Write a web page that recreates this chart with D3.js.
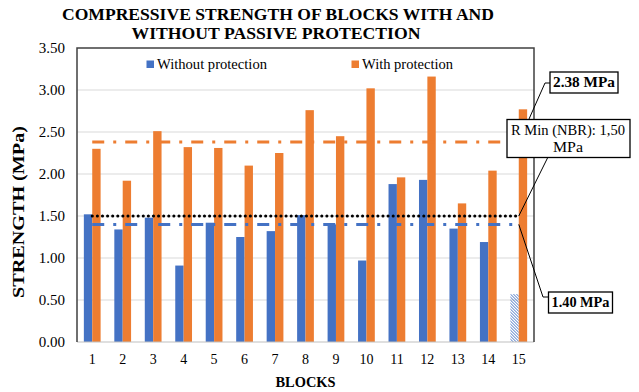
<!DOCTYPE html>
<html>
<head>
<meta charset="utf-8">
<script src="https://cdn.jsdelivr.net/npm/d3@7"></script>
<style>
    body { margin: 0; background: #fff; }
    svg { display: block; }
</style>
</head>
<body>
<div id="chart"></div>
<script>

// data
const blocks = ["1", "2", "3", "4", "5", "6", "7", "8", "9", "10", "11", "12", "13", "14", "15"];
const withoutProtection = [1.52, 1.34, 1.48, 0.91, 1.42, 1.25, 1.32, 1.51, 1.40, 0.97, 1.88, 1.93, 1.35, 1.19, 0.57];
const withProtection = [2.30, 1.92, 2.51, 2.32, 2.31, 2.10, 2.25, 2.76, 2.45, 3.02, 1.96, 3.16, 1.65, 2.04, 2.77];
const seriesNames = ["Without protection", "With protection"];
const yTicks = [0, 0.5, 1, 1.5, 2, 2.5, 3, 3.5];
const hatchedBlocks = ["15"];

// reference lines (averages and NBR minimum)
const avgWith = 2.38;
const avgWithout = 1.40;
const rMinNBR = 1.50;
const calloutTexts = ["2.38 MPa", "R Min (NBR): 1,50", "MPa", "1.40 MPa"];

const colors = {"Without protection": "#4472C4", "With protection": "#ED7D31"};
const FONT = "'Liberation Serif', 'Times New Roman', serif";

let vis = {};

// 1. svg + margins (plot area inside the dark frame)
vis.width = 639;
vis.height = 392;
vis.margin = {top: 48, right: 105, bottom: 50, left: 77};

vis.svg = d3.select("#chart").append("svg")
    .attr("width", vis.width)
    .attr("height", vis.height)
    .style("font-family", FONT);

vis.defs = vis.svg.append("defs");
vis.defs.append("pattern")
    .attr("id", "hatch")
    .attr("patternUnits", "userSpaceOnUse")
    .attr("width", 3)
    .attr("height", 3)
    .append("path")
    .attr("d", "M-1,-1 L4,4 M-1,2 L1,4 M2,-1 L4,1")
    .attr("stroke", colors["Without protection"])
    .attr("stroke-width", 1);

// 2. scales
vis.x0 = d3.scaleBand()
    .domain(blocks)
    .range([vis.margin.left, vis.width - vis.margin.right])
    .paddingInner(0.45)
    .paddingOuter(0.225);

vis.x1 = d3.scaleBand()
    .domain(seriesNames)
    .range([0, vis.x0.bandwidth()]);

vis.y = d3.scaleLinear()
    .domain([0, 3.5])
    .range([vis.height - vis.margin.bottom, vis.margin.top]);

const plotLeft = vis.margin.left;
const plotRight = vis.width - vis.margin.right;
const center = d => vis.x0(d) + vis.x0.bandwidth() / 2;

// 3. gridlines
vis.svg.append("g")
    .selectAll("line")
    .data(yTicks.filter(t => t > 0 && t < 3.5))
    .enter().append("line")
    .attr("x1", plotLeft)
    .attr("x2", plotRight)
    .attr("y1", d => vis.y(d))
    .attr("y2", d => vis.y(d))
    .attr("stroke", "#d9d9d9")
    .attr("stroke-width", 1);

// 4. y axis labels
vis.yAxis = vis.svg.append("g")
    .attr("transform", "translate(" + (plotLeft - 12) + ",0)")
    .call(d3.axisLeft(vis.y).tickValues(yTicks).tickFormat(d3.format(".2f")).tickSize(0).tickPadding(0))
    .attr("font-family", null);
vis.yAxis.select(".domain").remove();
vis.yAxis.selectAll("text")
    .style("font-family", FONT)
    .attr("font-size", 15)
    .attr("fill", "#000");

// 5. x axis labels
vis.xAxis = vis.svg.append("g")
    .attr("transform", "translate(0," + (vis.height - vis.margin.bottom) + ")")
    .call(d3.axisBottom(vis.x0).tickSize(0).tickPadding(12))
    .attr("font-family", null);
vis.xAxis.select(".domain").remove();
vis.xAxis.selectAll("text")
    .style("font-family", FONT)
    .attr("font-size", 14)
    .attr("fill", "#000");

// 6. bars
const rows = blocks.map((b, i) => ({block: b, values: [
    {key: seriesNames[0], value: withoutProtection[i]},
    {key: seriesNames[1], value: withProtection[i]}
]}));

vis.svg.append("g")
    .selectAll("g")
    .data(rows)
    .enter().append("g")
    .attr("transform", d => "translate(" + vis.x0(d.block) + ",0)")
    .selectAll("rect")
    .data(d => d.values.map(v => Object.assign({block: d.block}, v)))
    .enter().append("rect")
    .attr("x", d => vis.x1(d.key))
    .attr("width", vis.x1.bandwidth())
    .attr("y", d => vis.y(d.value))
    .attr("height", d => vis.y(0) - vis.y(d.value))
    .attr("fill", d => (d.key === seriesNames[0] && hatchedBlocks.includes(d.block)) ? "url(#hatch)" : colors[d.key]);

// 7. bottom axis line + frame
vis.svg.append("line")
    .attr("x1", plotLeft).attr("x2", plotRight)
    .attr("y1", vis.y(0)).attr("y2", vis.y(0))
    .attr("stroke", "#bfbfbf").attr("stroke-width", 1.2);

vis.svg.append("path")
    .attr("d", "M" + plotLeft + "," + vis.y(0) + " V" + vis.margin.top + " H" + plotRight + " V" + vis.y(0))
    .attr("fill", "none")
    .attr("stroke", "#404040")
    .attr("stroke-width", 1.5);

// 8. reference lines
const firstX = center(blocks[0]);
const lastX = center(blocks[blocks.length - 1]);
const refLines = [
    {value: avgWith, color: colors["With protection"], dash: "12,9,3,9", cap: "butt"},
    {value: avgWithout, color: colors["Without protection"], dash: "12,9,3,9", cap: "butt"},
    {value: rMinNBR, color: "#000", dash: "0.1,5", cap: "round"}
];
vis.svg.append("g")
    .selectAll("line")
    .data(refLines)
    .enter().append("line")
    .attr("x1", firstX).attr("x2", lastX)
    .attr("y1", d => vis.y(d.value)).attr("y2", d => vis.y(d.value))
    .attr("stroke", d => d.color)
    .attr("stroke-width", 3)
    .attr("stroke-dasharray", d => d.dash)
    .attr("stroke-linecap", d => d.cap);

// 9. callouts (leader lines first, boxes on top)
const leader = d3.line();
const leaders = [
    [[lastX, vis.y(avgWith)], [545, 83], [550, 83]],
    [[lastX, vis.y(rMinNBR)], [548, 157]],
    [[lastX, vis.y(avgWithout)], [543, 297], [548, 297]]
];
vis.svg.append("g")
    .selectAll("path")
    .data(leaders)
    .enter().append("path")
    .attr("d", d => leader(d))
    .attr("fill", "none")
    .attr("stroke", "#000")
    .attr("stroke-width", 1);

const boxes = [
    {x: 550, y: 72, w: 68, h: 21},
    {x: 507, y: 119.5, w: 123, h: 38},
    {x: 548.5, y: 292, w: 64, h: 21}
];
vis.svg.append("g")
    .selectAll("rect")
    .data(boxes)
    .enter().append("rect")
    .attr("x", d => d.x).attr("y", d => d.y)
    .attr("width", d => d.w).attr("height", d => d.h)
    .attr("fill", "#fff")
    .attr("stroke", "#000")
    .attr("stroke-width", 1.3);

const callText = [
    {t: calloutTexts[0], x: 584, y: 87, bold: true, len: 62},
    {t: calloutTexts[1], x: 568, y: 135, bold: false, len: 114},
    {t: calloutTexts[2], x: 568, y: 152, bold: false, len: 30},
    {t: calloutTexts[3], x: 580.5, y: 307, bold: true, len: 58}
];
vis.svg.append("g")
    .selectAll("text")
    .data(callText)
    .enter().append("text")
    .attr("x", d => d.x).attr("y", d => d.y)
    .attr("text-anchor", "middle")
    .attr("font-size", 14.5)
    .attr("font-weight", d => d.bold ? "bold" : "normal")
    .attr("textLength", d => d.len)
    .attr("lengthAdjust", "spacingAndGlyphs")
    .text(d => d.t);

// 10. legend
const legendItems = [
    {name: seriesNames[0], x: 146.5, len: 110},
    {name: seriesNames[1], x: 351.5, len: 91}
];
const lg = vis.svg.append("g")
    .selectAll("g")
    .data(legendItems)
    .enter().append("g");
lg.append("rect")
    .attr("x", d => d.x).attr("y", 60.5)
    .attr("width", 7.5).attr("height", 7.5)
    .attr("fill", d => colors[d.name]);
lg.append("text")
    .attr("x", d => d.x + 10.5).attr("y", 68.5)
    .attr("font-size", 14.5)
    .attr("textLength", d => d.len)
    .attr("lengthAdjust", "spacingAndGlyphs")
    .text(d => d.name);

// 11. titles
vis.svg.append("text")
    .attr("x", 278).attr("y", 20)
    .attr("text-anchor", "middle")
    .attr("font-size", 17).attr("font-weight", "bold")
    .attr("textLength", 432).attr("lengthAdjust", "spacingAndGlyphs")
    .text("COMPRESSIVE STRENGTH OF BLOCKS WITH AND");
vis.svg.append("text")
    .attr("x", 276).attr("y", 39)
    .attr("text-anchor", "middle")
    .attr("font-size", 17).attr("font-weight", "bold")
    .attr("textLength", 289).attr("lengthAdjust", "spacingAndGlyphs")
    .text("WITHOUT PASSIVE PROTECTION");

vis.svg.append("text")
    .attr("transform", "translate(23.5,212) rotate(-90)")
    .attr("text-anchor", "middle")
    .attr("font-size", 16).attr("font-weight", "bold")
    .attr("textLength", 172).attr("lengthAdjust", "spacingAndGlyphs")
    .text("STRENGTH (MPa)");

vis.svg.append("text")
    .attr("x", (plotLeft + plotRight) / 2).attr("y", 387)
    .attr("text-anchor", "middle")
    .attr("font-size", 15).attr("font-weight", "bold")
    .attr("textLength", 60).attr("lengthAdjust", "spacingAndGlyphs")
    .text("BLOCKS");

</script>
</body>
</html>
